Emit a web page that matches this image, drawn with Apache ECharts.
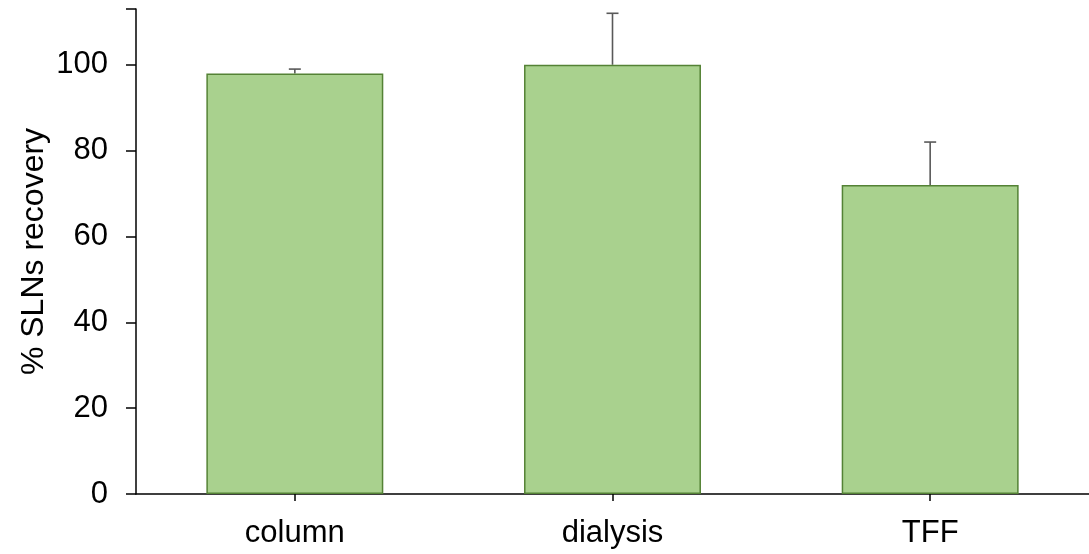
<!DOCTYPE html>
<html>
<head>
<meta charset="utf-8">
<script src="https://cdn.jsdelivr.net/npm/echarts@6/dist/echarts.min.js"></script>
<style>
html,body{margin:0;padding:0;background:#fff;}
#chart{width:1089px;height:554px;}
</style>
</head>
<body>
<div id="chart"></div>
<script>
var categories = ['column', 'dialysis', 'TFF'];
var recovery = [98, 100, 72];
var errorUp = [1, 12, 10];
var yTicks = [0, 20, 40, 60, 80, 100];

var FONT = '"Liberation Sans", Arial, sans-serif';
var chart = echarts.init(document.getElementById('chart'));

var errData = categories.map(function (c, i) { return [i, recovery[i], recovery[i] + errorUp[i]]; });

chart.setOption({
  animation: false,
  grid: { left: 136, right: 0, top: 9, bottom: 60, containLabel: false },
  xAxis: {
    type: 'category',
    data: categories,
    boundaryGap: true,
    axisLine: { lineStyle: { color: '#000', width: 1.5 } },
    axisTick: { show: true, alignWithLabel: true, length: 7, lineStyle: { color: '#000', width: 1.5 } },
    axisLabel: { color: '#000', fontFamily: FONT, fontSize: 31, margin: 24 }
  },
  yAxis: {
    type: 'value',
    min: 0,
    max: 113,
    interval: 20,
    name: '% SLNs recovery',
    nameLocation: 'middle',
    nameGap: 86,
    nameMoveOverlap: false,
    nameTextStyle: { color: '#000', fontFamily: FONT, fontSize: 32 },
    splitLine: { show: false },
    axisLine: { show: true, lineStyle: { color: '#000', width: 1.5 } },
    axisTick: { show: true, length: 10, lineStyle: { color: '#000', width: 1.5 } },
    axisLabel: {
      color: '#000', fontFamily: FONT, fontSize: 31, margin: 28,
      formatter: function (v) { return yTicks.indexOf(v) >= 0 ? String(v) : ''; }
    }
  },
  series: [
    {
      type: 'custom',
      z: 1,
      data: errData,
      renderItem: function (params, api) {
        var x = api.value(0);
        var lo = api.coord([x, api.value(1)]);
        var hi = api.coord([x, api.value(2)]);
        var half = 6;
        var st = { stroke: '#595959', lineWidth: 1.6 };
        return {
          type: 'group',
          children: [
            { type: 'line', shape: { x1: lo[0], y1: lo[1], x2: hi[0], y2: hi[1] }, style: st },
            { type: 'line', shape: { x1: hi[0] - half, y1: hi[1], x2: hi[0] + half, y2: hi[1] }, style: st }
          ]
        };
      }
    },
    {
      type: 'bar',
      z: 2,
      data: recovery,
      barWidth: '55.7%',
      itemStyle: { color: '#A9D18E', borderColor: '#548235', borderWidth: 1.5 }
    }
  ]
});
</script>
</body>
</html>
